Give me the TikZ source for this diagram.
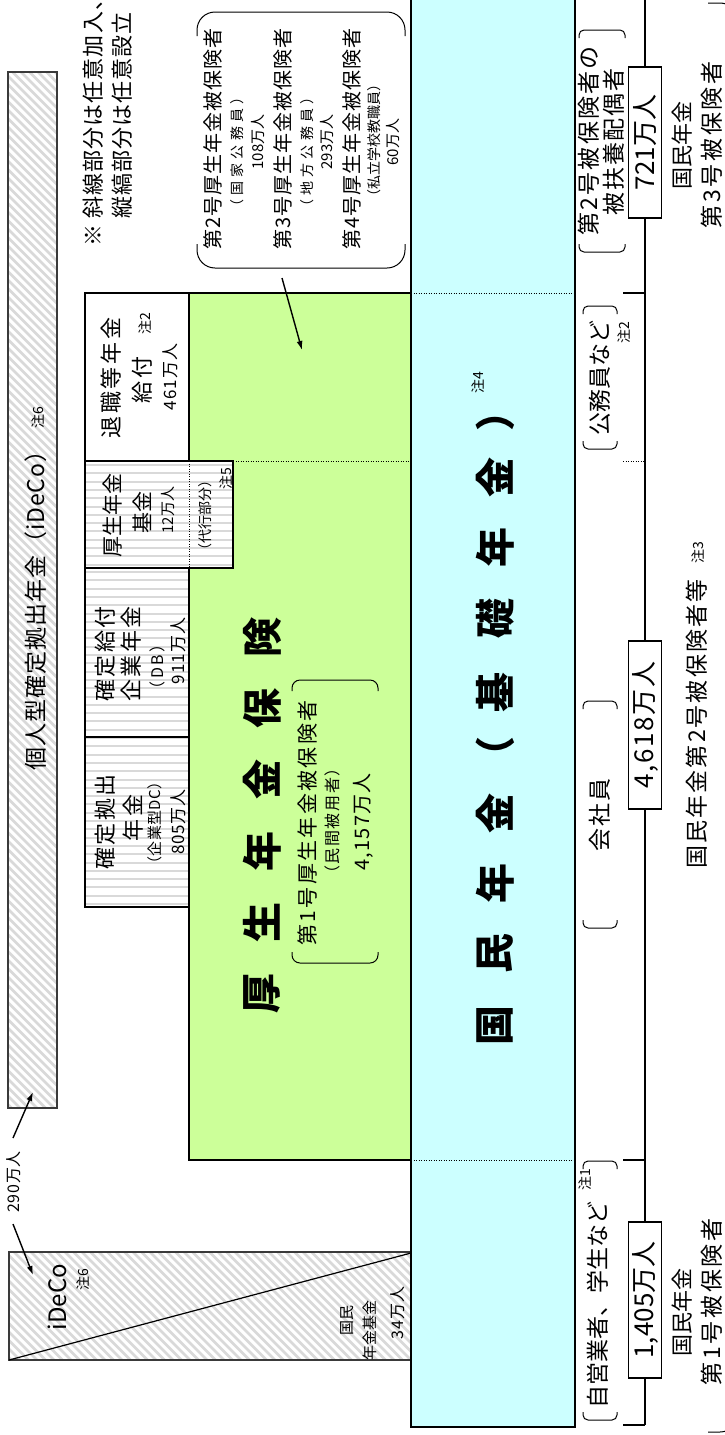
\documentclass[tikz,border=0pt]{standalone}
\usepackage{fontspec}
\setmainfont{Noto Sans CJK JP}
\usetikzlibrary{arrows.meta}
\newcommand\FS[1]{\fontsize{#1}{#1}\selectfont}
\newcommand\LS[1]{\addfontfeature{LetterSpace=#1}}
\definecolor{kgreen}{HTML}{CCFF99}
\definecolor{kblue}{HTML}{CCFFFF}
\definecolor{hgray}{HTML}{D9D9D9}
\definecolor{bgray}{HTML}{3A3A3A}
\begin{document}
\begin{tikzpicture}[x=1pt,y=-1pt,
 tx/.style={rotate=90,inner sep=0pt},
 bx/.style={draw=black,line width=1.2pt},
 ib/.style={draw=bgray,line width=1.4pt},
 dl/.style={line width=1pt,dash pattern=on 1.2pt off 1.3pt},
 brk/.style={line width=1pt,rounded corners=5pt},
 arr/.style={line width=1.4pt,-{Latex[length=9pt,width=6pt]}},
 cnt/.style={draw=black,line width=1.2pt,fill=white,rotate=90,inner sep=0pt,minimum height=33pt},
 bigch/.style={tx,font=\FS{40}\bfseries},
]
\useasboundingbox (0,0) rectangle (725,1435);
\clip (0,0) rectangle (725,1435);

% ---- iDeCo long bar
\fill[white] (8,72) rectangle (57,1108);
\begin{scope}
\clip (8,72) rectangle (57,1108);
\foreach \k in {0,8.5,...,1110} \draw[hgray,line width=2.8pt] (0,\k) -- (70,{\k+70});
\end{scope}
\draw[ib] (8,72) rectangle (57,1108);

% ---- small iDeCo / 国民年金基金 box
\fill[white] (9,1252) rectangle (411,1360);
\begin{scope}
\clip (9,1252) rectangle (411,1360);
\foreach \k in {830,838.5,...,1360} \draw[hgray,line width=2.8pt] (0,\k) -- (420,{\k+420});
\end{scope}
\draw[ib] (9,1252) rectangle (411,1360);
\draw[line width=1.2pt] (9,1360) -- (411,1253);

% ---- green and blue
\fill[kgreen] (189,293) rectangle (411,1160);
\draw[bx] (189,293) rectangle (411,1160);
\fill[kblue] (411,-5) rectangle (575,1427);
\draw[bx] (411,-5) rectangle (575,1427);

% ---- top tier boxes
\fill[white] (85,293) rectangle (189,461);
\fill[white] (85,461) rectangle (233,568);
\fill[white] (85,568) rectangle (189,907);
\foreach \y in {465,473.3,...,568} \draw[hgray,line width=2pt] (85,\y) -- (233,\y);
\foreach \y in {572,580.3,...,907} \draw[hgray,line width=2pt] (85,\y) -- (189,\y);
\draw[bx] (85,293) rectangle (189,461);
\draw[bx] (85,461) rectangle (233,568);
\draw[bx] (85,568) rectangle (189,737);
\draw[bx] (85,737) rectangle (189,907);
\draw[dl] (189,461) -- (189,568);
\draw[dl] (233,461) -- (411,461);
\draw[dl] (411,293) -- (575,293);
\draw[dl] (411,1160) -- (575,1160);

% ---- right column scale
\draw[line width=1.2pt] (645,-5) -- (645,1425);
\draw[line width=1.2pt] (623,293) -- (645,293);
\draw[dl] (623,461) -- (645,461);
\draw[line width=1.2pt] (623,1160) -- (645,1160);
\draw[line width=1.2pt] (623,1425) -- (645,1425);

% ---- brackets
\draw[brk] (579,38) -- (579,30) -- (625,30) -- (625,38);
\draw[brk] (579,244) -- (579,252) -- (625,252) -- (625,244);
\draw[brk] (583,314) -- (583,306) -- (617,306) -- (617,314);
\draw[brk] (583,441) -- (583,449) -- (617,449) -- (617,441);
\draw[brk] (583,709) -- (583,701) -- (617,701) -- (617,709);
\draw[brk] (583,920) -- (583,928) -- (617,928) -- (617,920);
\draw[brk] (583,1169) -- (583,1161) -- (617,1161) -- (617,1169);
\draw[brk] (583,1412) -- (583,1420) -- (617,1420) -- (617,1412);
\draw[line width=1pt,rounded corners=8pt] (292,691) -- (292,680) -- (378,680) -- (378,691);
\draw[line width=1pt,rounded corners=8pt] (292,952) -- (292,963) -- (378,963) -- (378,952);
\draw[line width=1pt,rounded corners=18pt] (197,36) -- (197,12) -- (405,12) -- (405,36);
\draw[line width=1pt,rounded corners=18pt] (197,244) -- (197,268) -- (405,268) -- (405,244);
\draw[line width=1pt,rounded corners=18pt] (708,3) -- (738,3) -- (738,1432) -- (708,1432);

% ---- count boxes
\node[cnt,minimum width=151pt,font=\FS{26}] (n721) at (645,142.5) {721万人};
\node[cnt,minimum width=168pt,font=\FS{26}\LS{6}] (n4618) at (645,725) {4,618万人};
\node[cnt,minimum width=156pt,font=\FS{26}] (n1405) at (645,1300) {1,405万人};

% ---- arrows
\coordinate (a1s) at (282,278); \coordinate (a1e) at (302,350);
\coordinate (a2s) at (13,1138); \coordinate (a2e) at (33,1092);
\coordinate (a3s) at (13,1224); \coordinate (a3e) at (33,1275);
\draw[arr] (a1s) -- (a1e);
\draw[arr] (a2s) -- (a2e);
\draw[arr] (a3s) -- (a3e);

% ---- texts
\node[tx,font=\FS{23}\LS{4}] (ideco) at (36,605) {個人型確定拠出年金（iDeCo）};
\node[tx,font=\FS{14}] (ideco6) at (38,418) {注6};
\node[tx,font=\FS{22}\LS{5},anchor=west] (note1) at (93,247) {※ 斜線部分は任意加入、};
\node[tx,font=\FS{22}\LS{5},anchor=west] (note2) at (122,219) {縦縞部分は任意設立};

\node[tx,font=\FS{20}\LS{5}] (g2a) at (213,139) {第2号厚生年金被保険者};
\node[tx,font=\FS{14}\LS{30}] (g2b) at (237,152) {（国家公務員）};
\node[tx,font=\FS{15}] (g2c) at (258,142) {108万人};
\node[tx,font=\FS{20}\LS{5}] (g3a) at (283,139) {第3号厚生年金被保険者};
\node[tx,font=\FS{14}\LS{30}] (g3b) at (307,152) {（地方公務員）};
\node[tx,font=\FS{15}] (g3c) at (327,142) {293万人};
\node[tx,font=\FS{20}\LS{5}] (g4a) at (352,139) {第4号厚生年金被保険者};
\node[tx,font=\FS{14}] (g4b) at (374,140) {（私立学校教職員）};
\node[tx,font=\FS{15}] (g4c) at (393,142) {60万人};

\node[tx,font=\FS{22}\LS{12}] (r1) at (111,378) {退職等年金};
\node[tx,font=\FS{22}\LS{12}] (r2) at (142,380) {給付};
\node[tx,font=\FS{14}] (r2n) at (145,324) {注2};
\node[tx,font=\FS{17}\LS{6}] (r3) at (170,377) {461万人};

\node[tx,font=\FS{21}] (k1) at (112,515) {厚生年金};
\node[tx,font=\FS{21}] (k2) at (142,512) {基金};
\node[tx,font=\FS{15}] (k3) at (168,510) {12万人};
\node[tx,font=\FS{14}] (k4) at (205,515) {（代行部分）};
\node[tx,font=\FS{14}] (k5) at (226,479) {注5};

\node[tx,font=\FS{22}\LS{10}] (d1) at (105,654) {確定給付};
\node[tx,font=\FS{22}\LS{10}] (d2) at (131,654) {企業年金};
\node[tx,font=\FS{16}\LS{15}] (d3) at (157,667) {（DB）};
\node[tx,font=\FS{17}\LS{6}] (d4) at (178,651) {911万人};

\node[tx,font=\FS{22}\LS{10}] (c1) at (105,822) {確定拠出};
\node[tx,font=\FS{22}\LS{10}] (c2) at (133,818) {年金};
\node[tx,font=\FS{15}\LS{3}] (c3) at (155,823) {（企業型DC）};
\node[tx,font=\FS{17}\LS{4}] (c4) at (178,822) {805万人};

\node[bigch] (kn1) at (262,637) {険};
\node[bigch] (kn2) at (262,708) {保};
\node[bigch] (kn3) at (262,779) {金};
\node[bigch] (kn4) at (262,851) {年};
\node[bigch] (kn5) at (262,922) {生};
\node[bigch] (kn6) at (262,993) {厚};

\node[tx,font=\FS{21}\LS{11}] (e1) at (308,823) {第1号厚生年金被保険者};
\node[tx,font=\FS{16}\LS{10}] (e2) at (332,821) {（民間被用者）};
\node[tx,font=\FS{20}\LS{6}] (e3) at (363,822) {4,157万人};

\node[bigch] (bn1) at (495,1025) {国};
\node[bigch] (bn2) at (495,953) {民};
\node[bigch] (bn3) at (495,883) {年};
\node[bigch] (bn4) at (495,813) {金};
\node[bigch] (bn5) at (495,756) {（};
\node[bigch] (bn6) at (495,692) {基};
\node[bigch] (bn7) at (495,618) {礎};
\node[bigch] (bn8) at (495,547) {年};
\node[bigch] (bn9) at (495,477) {金};
\node[bigch] (bn10) at (495,411) {）};
\node[tx,font=\FS{14}] (bn4n) at (478,383) {注4};

\node[tx,font=\FS{23}\LS{10}] (s1) at (589,141) {第2号被保険者の};
\node[tx,font=\FS{23}\LS{8}] (s2) at (614,142) {被扶養配偶者};
\node[tx,font=\FS{22}] (s3) at (682,145) {国民年金};
\node[tx,font=\FS{23}\LS{12}] (s4) at (712,145) {第3号被保険者};
\node[tx,font=\FS{23}] (s5) at (600,378) {公務員など};
\node[tx,font=\FS{14}] (s5n) at (624,333) {注2};
\node[tx,font=\FS{23}\LS{10}] (s6) at (600,815) {会社員};
\node[tx,font=\FS{23}\LS{9}] (s7) at (697,724) {国民年金第2号被保険者等};
\node[tx,font=\FS{14}] (s7n) at (698,553) {注3};
\node[tx,font=\FS{23}] (s8) at (598,1305) {自営業者、学生など};
\node[tx,font=\FS{14}] (s8n) at (585,1180) {注1};
\node[tx,font=\FS{22}] (s9) at (682,1312) {国民年金};
\node[tx,font=\FS{23}\LS{12}] (s10) at (712,1302) {第1号被保険者};

\node[tx,font=\FS{24}] (id2) at (57,1297) {iDeCo};
\node[tx,font=\FS{14}] (id2n) at (83,1280) {注6};
\node[tx,font=\FS{15}] (kk1) at (347,1320) {国民};
\node[tx,font=\FS{15}] (kk2) at (370,1330) {年金基金};
\node[tx,font=\FS{16}\LS{6}] (kk3) at (398,1313) {34万人};
\node[tx,font=\FS{16}\LS{5}] (p290) at (14,1182) {290万人};
\end{tikzpicture}
\end{document}
